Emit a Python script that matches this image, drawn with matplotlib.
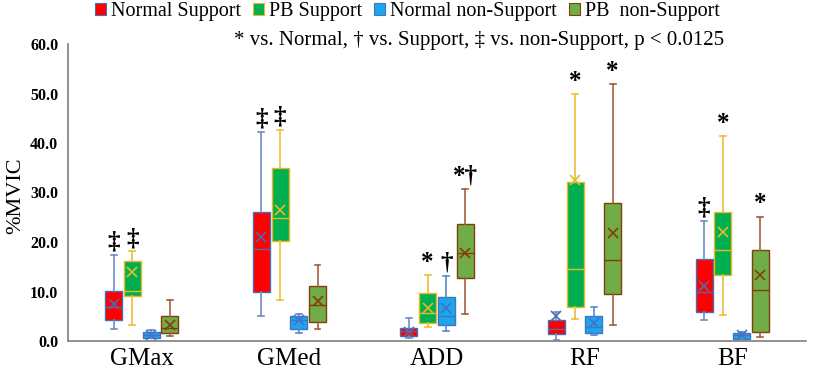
import matplotlib
matplotlib.use("Agg")
import matplotlib.pyplot as plt
from matplotlib.patches import Patch
import numpy as np

categories = ["GMax", "GMed", "ADD", "RF", "BF"]
series = ["Normal Support", "PB Support", "Normal non-Support", "PB  non-Support"]

# per series: whisker low, Q1, median, Q3, whisker high, mean (one value per category)
ns_lo = [2.4, 5.0, 0.7, 0.3, 4.3]
ns_q1 = [4.2, 10.0, 1.0, 1.5, 5.9]
ns_med = [6.8, 18.5, 2.1, 2.5, 9.8]
ns_q3 = [10.2, 26.0, 2.6, 4.3, 16.6]
ns_hi = [17.3, 42.3, 4.7, 5.9, 24.2]
ns_mean = [7.5, 21.1, 1.9, 5.0, 11.1]

ps_lo = [3.3, 8.3, 2.9, 4.5, 5.2]
ps_q1 = [9.0, 20.3, 3.6, 6.9, 13.3]
ps_med = [10.1, 24.8, 5.7, 14.5, 18.4]
ps_q3 = [16.2, 35.0, 9.7, 32.1, 26.0]
ps_hi = [18.1, 42.6, 13.3, 49.8, 41.4]
ps_mean = [13.9, 26.5, 6.7, 32.5, 22.0]

nn_lo = [0.6, 1.7, 2.0, 1.2, 0.5]
nn_q1 = [0.7, 2.4, 3.2, 1.6, 0.5]
nn_med = [1.2, 4.3, 5.05, 2.8, 1.2]
nn_q3 = [1.8, 5.05, 8.8, 5.05, 1.7]
nn_hi = [2.2, 5.45, 13.1, 6.9, 1.9]
nn_mean = [1.3, 4.2, 6.7, 3.6, 1.3]

pn_lo = [1.0, 2.4, 5.5, 3.2, 0.9]
pn_q1 = [1.7, 3.8, 12.8, 9.4, 1.9]
pn_med = [2.7, 7.3, 17.7, 16.3, 10.4]
pn_q3 = [5.0, 11.1, 23.6, 27.9, 18.4]
pn_hi = [8.3, 15.4, 30.8, 51.9, 25.1]
pn_mean = [3.3, 8.1, 17.8, 21.8, 13.3]

ns_sig = ["‡", "‡", "", "", "‡"]
ps_sig = ["‡", "‡", "*", "*", "*"]
nn_sig = ["", "", "†", "", ""]
pn_sig = ["", "", "*†", "*", "*"]

yticks = [0, 10, 20, 30, 40, 50, 60]
ylabel = "%MVIC"
note = "* vs. Normal, † vs. Support, ‡ vs. non-Support, p < 0.0125"

data = [
    (ns_lo, ns_q1, ns_med, ns_q3, ns_hi, ns_mean, ns_sig),
    (ps_lo, ps_q1, ps_med, ps_q3, ps_hi, ps_mean, ps_sig),
    (nn_lo, nn_q1, nn_med, nn_q3, nn_hi, nn_mean, nn_sig),
    (pn_lo, pn_q1, pn_med, pn_q3, pn_hi, pn_mean, pn_sig),
]
fills = ["#FF0000", "#00B050", "#1CA7EC", "#70AD47"]
edges = ["#4A6CB3", "#E8B923", "#4472C4", "#843C0C"]
whisk = ["#6F8FC6", "#EDBE3A", "#5B87CF", "#A0603E"]

plt.rcParams["font.family"] = ["Liberation Serif", "DejaVu Serif"]

fig = plt.figure(figsize=(8.13, 3.74), dpi=100)
ax = fig.add_axes([68 / 813, 33 / 374, 738 / 813, 297 / 374])

x = np.arange(len(categories))
step = 0.127
width = 0.115
for s, (lo, q1, med, q3, hi, mean, sig) in enumerate(data):
    off = (s - 1.5) * step
    stats = []
    for i in range(len(categories)):
        stats.append(dict(whislo=lo[i], q1=q1[i], med=med[i], q3=q3[i],
                          whishi=hi[i], mean=mean[i], fliers=[]))
    ax.bxp(stats, positions=x + off, widths=width, patch_artist=True,
           showmeans=True, manage_ticks=False,
           boxprops=dict(facecolor=fills[s], edgecolor=edges[s], linewidth=1.0),
           medianprops=dict(color=edges[s], linewidth=1.0),
           whiskerprops=dict(color=whisk[s], linewidth=1.2),
           capprops=dict(color=whisk[s], linewidth=1.2),
           capwidths=0.04,
           meanprops=dict(marker="x", markeredgecolor=edges[s], markersize=7,
                          markeredgewidth=1.2))
    for i in range(len(categories)):
        if sig[i]:
            ax.annotate(sig[i], (x[i] + off, hi[i]), xytext=(0, 1),
                        textcoords="offset points", ha="center", va="bottom",
                        fontsize=18, fontweight="bold", color="black")

ax.set_xlim(-0.5, len(categories) - 0.5)
ax.set_ylim(0, 60)
ax.set_xticks(x)
ax.set_xticklabels(categories, fontsize=18)
ax.set_yticks(yticks)
ax.set_yticklabels([f"{v:.1f}" for v in yticks], fontsize=11.5, fontweight="bold")
ax.tick_params(axis="both", length=0)
ax.tick_params(axis="y", pad=7)
ax.tick_params(axis="x", pad=5)
for sp in ["top", "right"]:
    ax.spines[sp].set_visible(False)
for sp in ["left", "bottom"]:
    ax.spines[sp].set_color("#7F7F7F")
    ax.spines[sp].set_linewidth(1.2)
ax.set_ylabel(ylabel, fontsize=16)
ax.yaxis.set_label_coords(-0.058, 0.49)

handles = [Patch(facecolor=fills[s], edgecolor=edges[s], linewidth=0.8) for s in range(4)]
fig.legend(handles, series, loc="center", bbox_to_anchor=(0.501, 0.970), ncol=4,
           frameon=False, fontsize=14.5, handlelength=0.55, handleheight=0.55,
           handletextpad=0.25, columnspacing=0.6, borderpad=0)
fig.text(0.589, 0.893, note, ha="center", va="center", fontsize=15)

fig.savefig("out.png", dpi=100)
